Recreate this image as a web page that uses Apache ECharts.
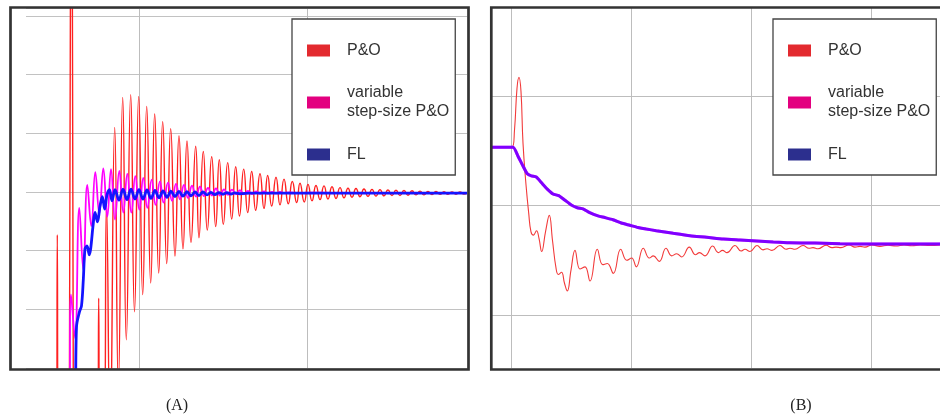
<!DOCTYPE html>
<html>
<head>
<meta charset="utf-8">
<script src="https://cdn.jsdelivr.net/npm/echarts@6/dist/echarts.min.js"></script>
<style>html,body{margin:0;padding:0;background:#fff}#c{width:940px;height:415px}</style>
</head>
<body>
<div id="c"></div>
<script>
// ---------- Panel (A): time in samples, value in arbitrary units ----------
const redA = [[55,-10],[85.5,-10],[86.3,22.7],[87.1,-10],[98.3,-10],[99.6,75],[101.2,75],[102.4,-10],[126.8,-10],[127.7,11.9],[128.6,-10],[132.8,-10],[135.5,27.8],[139,-10],
[143.7,41.0],[147.3,-3],[151.7,46.1],[155.3,4.8],[159.7,46.6],[163.5,9.6],[167.7,46.3],[171.7,12.5],[175.7,44.6],[179.7,14.5],[183.7,43.3],[187.7,16.2],
[191.7,42.0],[195.7,17.8],[199.7,40.8],[204,19.1],[208,39.6],[212,20.3],[216,38.7],[220,21.4],[224.7,37.8],[228,22.2],[232.3,36.9],[236.3,23.5],
[240.7,36.0],[244.7,24.1],[248.3,35.5],[252.3,24.5],[256.7,35.0],[260.7,25.4],[264.7,34.3],[268.5,25.9],[272.7,33.9],[276.7,26.5],[280.7,33.5],
[284.7,26.9],[289,33.1],[293,27.2],[296.7,32.8],[300.7,27.6],[305,32.5],[309,27.8],[313,32.2],[317.3,28.0],[321.3,31.8],[325.7,28.2],[329,31.5],
[333.3,28.3],[337,31.3],[341,28.5],[345,31.1],[349,28.7],[353,31.05],[357,28.8],[361,30.9],[365,28.9],[369,30.75],[373,29.0],[377,30.65],[381,29.1],
[385,30.6],[389,29.2],[393,30.5],[397,29.25],[401,30.45],[405,29.3],[409,30.4],[413,29.35],[417,30.35],[421,29.4],[425,30.3],[429,29.4],[433,30.25],
[437,29.45],[441,30.2],[445,29.5],[449,30.15],[453,29.5],[457,30.1],[461,29.55],[465,30.1],[469,29.6],[473,30.05],[477,29.6],[481,30.0],[485,29.6],
[489,30.0],[493,29.65],[496,29.85]];
const vspA = [[55,-10],[98,-10],[100,12.5],[104,5.1],[108.3,27.3],[112.3,16.7],[116.3,31.2],[120.3,24.2],[124.3,33.4],[128.3,26.3],[132.3,34.0],[136.3,25.8],
[140,33.9],[144,25.3],[148.3,33.6],[152.3,26.5],[156.3,33.1],[160.3,26.5],[164.3,32.7],[168.3,27.0],[172.3,32.4],[176.3,27.3],[180.7,32.1],[184.5,27.8],
[189,31.8],[192.5,28.2],[197,31.6],[201,28.5],[205,31.4],[209,28.75],[213,31.2],[217,29.0],[221,31.1],[225,29.2],[229,30.9],[233,29.3],[237,30.7],
[241,29.4],[245,30.6],[249,29.4],[253,30.45],[257,29.5],[261,30.4],[265,29.6],[269,30.3],[273,29.6],[277,30.2],[281,29.65],[285,30.1],[289,29.7],
[293,30.1],[297,29.7],[301,30.0],[305,29.75],[309,30.0],[313,29.8],[319,29.95],[325,29.8],[339,29.9],[360,29.85],[400,29.85],[496,29.85]];
const flA = [[55,-10],[103.5,-10],[105.5,7.0],[108.5,9.6],[110.5,10.6],[112.3,15.0],[114,20.3],[116,20.8],[118.3,19.3],[119.8,20.5],[122,24.2],[124,26.5],
[126.5,24.9],[129,27.6],[131.3,29.2],[133.7,27.1],[136,29.5],[138.5,30.4],[141,28.5],[144,30.4],[148,28.6],[152,30.5],[156,28.7],[160,30.5],[164,28.8],
[168,30.4],[172,28.8],[176,30.35],[180,28.9],[184,30.25],[188,29.0],[192,30.2],[196,29.1],[200,30.15],[204,29.2],[208,30.1],[212,29.3],[216,30.05],
[220,29.35],[224,30.0],[228,29.4],[232,30.0],[236,29.5],[240,29.95],[244,29.55],[248,29.9],[252,29.6],[256,29.9],[260,29.65],[264,29.85],[269,29.7],
[279,29.8],[299,29.8],[496,29.8]];
const gridAx = [168, 336];

// ---------- Panel (B) ----------
const redB = [[-19,25.32],[1,25.32],[3.5,26.9],[6,30.7],[8,31.7],[10,30.4],[12,25.7],[15,21.9],[17.7,19.3],[20,17.6],[22.5,17.3],[25.5,17.7],[28,17.0],
[30.7,15.8],[34.5,17.6],[38.3,19.1],[41.5,16.8],[45,14.3],[47.3,13.7],[50.5,13.9],[53.5,12.9],[56.3,12.2],[60,14.1],[64,15.9],[69,14.2],[74,14.4],
[79,13.1],[86.3,16.0],[91.7,14.6],[96.3,14.7],[102.3,13.8],[109.7,16.0],[115.7,15.0],[120.7,15.2],[125.3,14.4],[132.3,16.1],[138.3,15.2],[142.3,15.4],
[148.3,14.9],[155,16.1],[160.7,15.4],[165.7,15.6],[170.7,15.3],[178.3,16.2],[184.5,15.5],[188.5,15.7],[194,15.4],[201.7,16.3],[207.3,15.7],[211.5,15.9],
[216,15.7],[224,16.35],[230,15.85],[234,16.0],[239,15.8],[246,16.35],[252,15.95],[256,16.05],[261,15.9],[269,16.35],[275,16.0],[279,16.1],[284,16.0],
[292,16.35],[298,16.1],[302,16.15],[307,16.05],[315,16.37],[321,16.15],[325,16.2],[330,16.15],[338,16.4],[344,16.2],[349,16.27],[354,16.2],[361,16.4],
[369,16.27],[377,16.37],[385,16.3],[393,16.4],[401,16.32],[409,16.4],[419,16.35],[429,16.4]];
const convB = [[-19,25.32],[2,25.32],[7,24.5],[12,23.6],[16.3,22.9],[20.3,22.7],[25.3,22.6],[30.3,22.1],[36.3,21.5],[42,21.05],[47.7,20.9],[53.7,20.5],
[60.3,20.05],[66.3,19.8],[72,19.7],[78.7,19.35],[87,19.05],[93.7,18.9],[102,18.7],[110.3,18.4],[118.7,18.2],[127,18.0],[135.3,17.85],[145.3,17.7],
[162.3,17.46],[179,17.24],[195.7,17.1],[212.3,16.94],[229,16.85],[245.7,16.76],[262.3,16.67],[279,16.6],[295.7,16.58],[312.3,16.55],[329,16.51],
[362,16.48],[395.7,16.48],[429,16.48]];
const gridBx = [0, 120, 240, 360];
const gridBy = [10, 20, 30];

const names = ['P&O', 'variable step-size P&O', 'FL'];
const swatch = ['#e32a2f', '#e3007f', '#2c2f8e'];

const chart = echarts.init(document.getElementById('c'), null, {renderer: 'canvas'});
const gridLine = {color: '#c2c2c2', width: 1};
const hiddenAxis = {axisLine: {show: false}, axisTick: {show: false}, axisLabel: {show: false}, splitLine: {show: false}};
const mk = (xs, ys) => ({
  silent: true, symbol: ['none', 'none'], z: 1, animation: false,
  label: {show: false}, lineStyle: {color: '#bdbdbd', width: 1, type: 'solid'},
  emphasis: {disabled: true},
  data: xs.map(v => ({xAxis: v})).concat(ys.map(v => ({yAxis: v})))
});
const legendBase = (left) => ({
  orient: 'vertical', left: left, top: 19, icon: 'rect', itemWidth: 23, itemHeight: 12, itemGap: 23.5,
  padding: [22, 6, 11, 15], borderColor: '#444', borderWidth: 1.3, backgroundColor: '#fff',
  selectedMode: false,
  formatter: n => n === names[1] ? 'variable\nstep-size P&O' : n,
  textStyle: {fontFamily: 'Liberation Sans', fontSize: 16, color: '#333', lineHeight: 19, padding: [0, 0, 0, 12]},
  data: names.map((n, i) => ({name: n, itemStyle: {color: swatch[i], borderWidth: 0}}))
});

chart.setOption({
  animation: false,
  backgroundColor: '#fff',
  title: [
    {text: '(A)', left: 172, top: 393, textAlign: 'center', textStyle: {fontFamily: 'Liberation Serif', fontSize: 16, fontWeight: 'normal', color: '#222'}},
    {text: '(B)', left: 796, top: 393, textAlign: 'center', textStyle: {fontFamily: 'Liberation Serif', fontSize: 16, fontWeight: 'normal', color: '#222'}}
  ],
  legend: [legendBase(292), legendBase(773)],
  grid: [
    {left: 26, top: 8, width: 441, height: 360},
    {left: 492, top: 8, width: 448, height: 360}
  ],
  xAxis: [
    Object.assign({type: 'value', gridIndex: 0, min: 55, max: 496}, hiddenAxis),
    Object.assign({type: 'value', gridIndex: 1, min: -19, max: 429}, hiddenAxis)
  ],
  yAxis: [
    Object.assign({type: 'value', gridIndex: 0, min: 0, max: 61.36, interval: 10}, hiddenAxis, {splitLine: {show: true, lineStyle: gridLine}}),
    Object.assign({type: 'value', gridIndex: 1, min: 5.16, max: 38.04}, hiddenAxis)
  ],
  series: [
    {name: names[0], type: 'line', xAxisIndex: 0, yAxisIndex: 0, data: redA, showSymbol: false, smooth: 0.55, z: 2,
      lineStyle: {color: '#ff2020', width: 1.4}, itemStyle: {color: '#ff2020'}, markLine: mk(gridAx, [])},
    {name: names[1], type: 'line', xAxisIndex: 0, yAxisIndex: 0, data: vspA, showSymbol: false, smooth: 0.45, z: 3,
      lineStyle: {color: '#ff00ff', width: 1.8}, itemStyle: {color: '#ff00ff'}},
    {name: names[2], type: 'line', xAxisIndex: 0, yAxisIndex: 0, data: flA, showSymbol: false, smooth: 0.35, z: 4,
      lineStyle: {color: '#1414ff', width: 2.8}, itemStyle: {color: '#1414ff'}},
    {name: names[0], type: 'line', xAxisIndex: 1, yAxisIndex: 1, data: redB, showSymbol: false, smooth: 0.45, z: 2,
      lineStyle: {color: '#f23a3a', width: 1.1}, itemStyle: {color: '#ff2020'}, markLine: mk(gridBx, gridBy)},
    {name: names[1], type: 'line', xAxisIndex: 1, yAxisIndex: 1, data: convB, showSymbol: false, smooth: 0.2, z: 3,
      lineStyle: {color: '#ff00ff', width: 3}, itemStyle: {color: '#ff00ff'}},
    {name: names[2], type: 'line', xAxisIndex: 1, yAxisIndex: 1, data: convB, showSymbol: false, smooth: 0.2, z: 4,
      lineStyle: {color: '#0000ff', width: 3, opacity: 0.5}, itemStyle: {color: '#1414ff'}}
  ],
  graphic: [
    {type: 'rect', z: 100, silent: true, shape: {x: 10.5, y: 7.5, width: 458, height: 362}, style: {fill: 'none', stroke: '#333', lineWidth: 2.7}},
    {type: 'rect', z: 100, silent: true, shape: {x: 491.3, y: 7.5, width: 460, height: 362}, style: {fill: 'none', stroke: '#333', lineWidth: 2.7}}
  ]
});
</script>
</body>
</html>
